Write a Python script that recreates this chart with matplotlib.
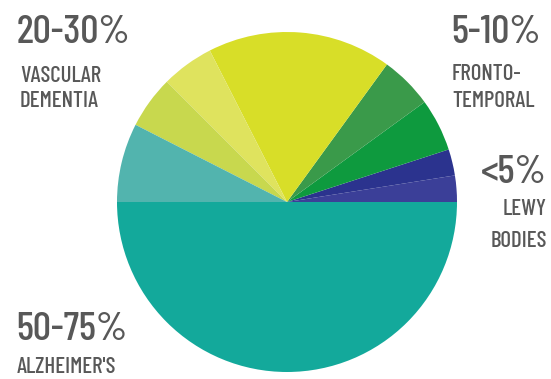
import matplotlib
matplotlib.use("Agg")
import matplotlib.pyplot as plt

# slices counter-clockwise starting at 0 deg (right)
labels = ["Lewy 1", "Lewy 2", "FT 1", "FT 2", "Vascular main", "Vascular 2", "Vascular 3", "Mixed", "Alzheimer's"]
values = [2.5, 2.5, 5.0, 5.0, 17.5, 5.0, 5.0, 7.5, 50.0]
colors = ["#3b3f98", "#2b338e", "#0e9a3e", "#3a9a4a", "#d8de28", "#dfe35e", "#c8d84e", "#52b4ae", "#13a99b"]

big_texts = ["20-30%", "5-10%", "<5%", "50-75%"]
small_texts = [["VASCULAR", "DEMENTIA"], ["FRONTO-", "TEMPORAL"], ["LEWY", "BODIES"], ["ALZHEIMER'S"]]

fam = ["Barlow Condensed", "DejaVu Sans"]

fig = plt.figure(figsize=(5.51, 3.79), dpi=100)
ax = fig.add_axes([0, 0, 1, 1])
ax.pie(values, colors=colors, startangle=0, counterclock=True,
       center=(287, 177), radius=170, frame=True,
       wedgeprops=dict(linewidth=0))
ax.set_xlim(0, 551)
ax.set_ylim(0, 379)
ax.set_aspect("equal")
ax.axis("off")

tc = "#585858"
H = 379
big_size = 29
small_size = 16.5

def put(x, y_base, s, size, ha="left"):
    ax.text(x, H - y_base, s, fontsize=size, color=tc, family=fam,
            fontweight=500, ha=ha, va="baseline")

put(17, 43, big_texts[0], big_size)
put(20, 82, small_texts[0][0], small_size)
put(20, 107, small_texts[0][1], small_size)

put(451, 43, big_texts[1], big_size)
put(452, 80, small_texts[1][0], small_size)
put(452, 107, small_texts[1][1], small_size)

put(547, 183, big_texts[2], big_size, ha="right")
put(547, 215, small_texts[2][0], small_size, ha="right")
put(547, 247, small_texts[2][1], small_size, ha="right")

put(16, 340, big_texts[3], big_size)
put(17, 373, small_texts[3][0], small_size)

fig.savefig("out.png", dpi=100)
